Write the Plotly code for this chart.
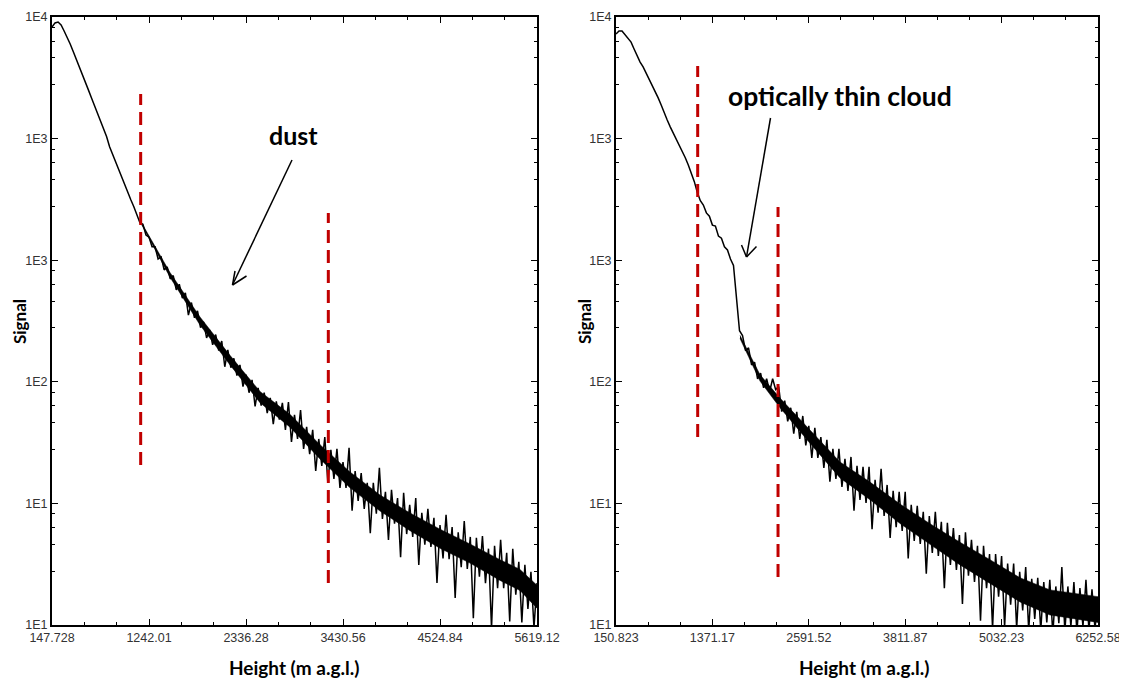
import numpy as np
import plotly.graph_objects as go

# ---------------- data ----------------
left_x_ticks = [147.728, 1242.01, 2336.28, 3430.56, 4524.84, 5619.12]
left_x_labels = ["147.728", "1242.01", "2336.28", "3430.56", "4524.84", "5619.12"]
right_x_ticks = [150.823, 1371.17, 2591.52, 3811.87, 5032.23, 6252.58]
right_x_labels = ["150.823", "1371.17", "2591.52", "3811.87", "5032.23", "6252.58"]

y_tick_exponents = [1.0, 1.6, 2.2, 2.8, 3.4, 4.0]
y_tick_labels = ["1E1", "1E1", "1E2", "1E3", "1E3", "1E4"]

# signal of the dust profile (left) on evenly spaced range bins
left_signal = [8930, 9350, 9450, 9130, 8530, 7960, 7360, 6750, 6210, 5680, 5210, 4760, 4370, 4000,
               3660, 3360, 3065, 2810, 2570, 2290, 2095, 1915, 1755, 1606, 1477, 1361, 1253, 1159,
               1068, 965, 950, 840, 820, 735, 735, 640, 655, 565, 585, 510, 530, 450, 480, 410, 435,
               338, 390, 328, 355, 293, 313, 261, 286, 241, 271, 226, 252, 188, 228, 186, 207, 170,
               192, 150, 172, 140, 162, 120, 148, 121, 140, 111, 132, 98, 127, 103,
               124.7, 91.8, 126, 80, 109, 82.8, 115, 74, 95, 69.6, 91.8, 57.5, 82.8, 61, 84.6, 50.3,
               73.1, 52.6, 74, 47.5, 63.7, 47.5, 74.8, 36.6, 57.5, 41, 56.2, 37.4, 50.3, 28.4, 50.3,
               35.4, 59.6, 33.4, 45.4, 26.3, 46.4, 31.6, 42.3, 21.6, 44.9, 28.1, 39.2, 27.2, 42.3,
               19.8, 35.8, 24.9, 37.4, 24.3, 33.8, 16.1, 31.1, 21.3, 35, 21.1, 30.4, 13.6, 28.7, 19.3,
               32.6, 18.9, 27.2, 10.8, 26.9, 17.3, 27.5, 16.1, 23.8, 9.6, 24.6, 15.2, 26.3, 15.2, 22.7,
               10.4, 23.8, 14.1, 20.5, 10.3, 19.8, 12.0, 18.3, 9.7, 16.1]

# dense noise core of the dust profile (upper / lower edge of the black band)
left_band_height = [1140.5, 1478.9, 1817.3, 2155.8, 2494.2, 2832.6, 3171.1, 3509.5, 3848.0,
                    4186.4, 4524.8, 4863.3, 5201.7, 5427.3, 5619.1]
left_band_upper = [995, 549, 331, 214, 142, 109.5, 77.6, 56.9, 43.8, 35.7, 29.7, 25.1, 21.0, 18.8, 15.7]
left_band_lower = [977, 520, 302, 192, 125, 94.7, 65.9, 47.5, 36.5, 29.2, 23.9, 20.2, 16.6, 14.8, 12.1]

# signal of the optically thin cloud profile (right)
right_signal = [8250, 8530, 8530, 8170, 7880, 7520, 6950, 6420, 5990, 5670, 5290, 5000, 4670, 4320,
                3990, 3680, 3360, 3100, 2870, 2680, 2500, 2340, 2180, 2020, 1860, 1700, 1540, 1360,
                1240, 1180, 1080, 1040, 940, 930, 830, 810, 735, 709, 640, 595, 425, 283, 268, 226,
                233, 192, 198, 164, 175, 148, 164, 142, 164, 145, 150, 113, 128, 101, 118, 88,
                112.6, 82.8, 107.5, 77, 96, 66.7, 94, 66.7, 84.6, 59.6, 81.9, 51, 74, 52.6, 74, 48,
                66, 45.9, 67.5, 36.6, 61, 41.4, 60.3, 40, 60.3, 29.7, 52, 35.8, 58.9, 34.5, 49.1,
                26.9, 45.9, 30.4, 45.4, 29.1, 45.4, 21.3, 39.2, 26, 38.7, 25.1, 36.2, 17.9, 34.5,
                22.7, 36.2, 21.9, 32.3, 15.2, 31.9, 19.8, 30.1, 18.7, 27.8, 12.7, 28.7, 17.5, 26.3,
                16.3, 24.6, 10.5, 24.6, 15.2, 22.4, 9.6, 22.4, 13.8, 21.9, 9.8, 20.1, 12.6, 20.1, 9.6,
                18.3, 11.8, 19.3, 9.4, 16.9, 10.7, 17.1, 9.4, 16.3, 10.3, 16.7, 9.0, 15.5, 10.2, 19.3,
                9.3, 15.5, 9.8, 16.3, 9.2, 15.2, 9.8, 16.7, 9.4, 15, 9.6, 13.6]

right_band_height = [1720.6, 1973.7, 2226.9, 2606.7, 2986.5, 3366.3, 3746.0, 4125.8, 4505.6,
                     4885.4, 5265.1, 5644.9, 6024.7, 6252.6]
right_band_upper = [268.6, 171.8, 131.7, 91.1, 63.7, 50.7, 39.5, 31.6, 25.6, 21.0, 17.1, 14.9, 14.2, 13.8]
right_band_lower = [259, 159.8, 118.1, 78.8, 53.2, 41.5, 31.7, 25.0, 19.8, 16.0, 13.0, 11.2, 10.6, 10.3]

# layer boundary markers (height, m a.g.l.)
left_markers = [1148, 3265]
right_markers = [1185, 2202]

left_height = np.linspace(left_x_ticks[0], left_x_ticks[-1], len(left_signal))
right_height = np.linspace(right_x_ticks[0], right_x_ticks[-1], len(right_signal))

# ---------------- figure ----------------
# the page body adds an 8 px offset, so the figure is 8 px smaller and all
# reference pixel positions are shifted by 8 px
OFF = 8
W, H = 1127 - OFF, 681 - OFF


def px(x):
    return (x - OFF) / W


def py(y):
    return 1 - (y - OFF) / H


fig = go.Figure()


def add_band(hts, up, lo, xa, ya):
    fig.add_trace(go.Scatter(x=list(hts) + list(hts)[::-1], y=list(up) + list(lo)[::-1],
                             mode="lines", fill="toself", fillcolor="black",
                             line=dict(color="black", width=0.5), xaxis=xa, yaxis=ya,
                             showlegend=False, hoverinfo="skip"))


add_band(left_band_height, left_band_upper, left_band_lower, "x", "y")
add_band(right_band_height, right_band_upper, right_band_lower, "x2", "y2")

fig.add_trace(go.Scatter(x=left_height, y=left_signal, mode="lines",
                         line=dict(color="black", width=1.5), xaxis="x", yaxis="y",
                         showlegend=False, hoverinfo="skip"))
fig.add_trace(go.Scatter(x=right_height, y=right_signal, mode="lines",
                         line=dict(color="black", width=1.5), xaxis="x2", yaxis="y2",
                         showlegend=False, hoverinfo="skip"))

tick_font = dict(family="Liberation Sans, Arial, sans-serif", size=12.5, color="#333333")

y_tickvals = [10 ** e for e in y_tick_exponents]
fracs = [0.086, 0.198, 0.337, 0.556]
step = y_tick_exponents[1] - y_tick_exponents[0]
y_minor = [10 ** (t - f * step) for t in y_tick_exponents[1:] for f in fracs]


def x_minor(ticks):
    out = []
    for a, b in zip(ticks[:-1], ticks[1:]):
        d = (b - a) / 3
        out += [a + d, a + 2 * d]
    return out


common_x = dict(showline=True, linewidth=2, linecolor="black", mirror="ticks",
                ticks="inside", ticklen=6, tickwidth=1, tickcolor="black", automargin=False,
                showgrid=False, zeroline=False, tickfont=tick_font, tickmode="array")
common_y = dict(type="log", range=[1, 4], showline=True, linewidth=2, linecolor="black",
                mirror="ticks", ticks="inside", ticklen=6, tickwidth=1, tickcolor="black",
                showgrid=False, zeroline=False, tickfont=tick_font, tickmode="array",
                tickvals=y_tickvals, ticktext=y_tick_labels, automargin=False,
                minor=dict(tickmode="array", tickvals=y_minor, ticks="inside", ticklen=3,
                           tickwidth=1, tickcolor="black", showgrid=False),
                domain=[py(625), py(17)])

fig.update_layout(
    width=W, height=H, margin=dict(l=0, r=0, t=0, b=0, pad=0, autoexpand=False),
    paper_bgcolor="white", plot_bgcolor="white",
    xaxis=dict(domain=[px(52), px(537)], range=[left_x_ticks[0], left_x_ticks[-1]],
               tickvals=left_x_ticks, ticktext=left_x_labels, anchor="y",
               minor=dict(tickmode="array", tickvals=x_minor(left_x_ticks), ticks="inside",
                          ticklen=3, tickwidth=1, tickcolor="black", showgrid=False),
               **common_x),
    yaxis=dict(anchor="x", **common_y),
    xaxis2=dict(domain=[px(616), px(1098)], range=[right_x_ticks[0], right_x_ticks[-1]],
                tickvals=right_x_ticks, ticktext=right_x_labels, anchor="y2",
                minor=dict(tickmode="array", tickvals=x_minor(right_x_ticks), ticks="inside",
                           ticklen=3, tickwidth=1, tickcolor="black", showgrid=False),
                **common_x),
    yaxis2=dict(anchor="x2", **common_y),
)

title_font = dict(family="Lato, Open Sans, sans-serif", size=19, color="black")
signal_font = dict(family="Lato, Open Sans, sans-serif", size=17, color="black")
ann = []
ann.append(dict(text="<b>Height (m a.g.l.)</b>", x=px(294), y=py(667), xref="paper", yref="paper",
                showarrow=False, xanchor="center", yanchor="middle", font=title_font))
ann.append(dict(text="<b>Height (m a.g.l.)</b>", x=px(864), y=py(667), xref="paper", yref="paper",
                showarrow=False, xanchor="center", yanchor="middle", font=title_font))
ann.append(dict(text="<b>Signal</b>", x=px(19), y=py(322), xref="paper", yref="paper",
                showarrow=False, xanchor="center", yanchor="middle", textangle=-90, font=signal_font))
ann.append(dict(text="<b>Signal</b>", x=px(584), y=py(322), xref="paper", yref="paper",
                showarrow=False, xanchor="center", yanchor="middle", textangle=-90, font=signal_font))
ann.append(dict(text="<b>dust</b>", x=px(293), y=py(135), xref="paper", yref="paper",
                showarrow=False, xanchor="center", yanchor="middle",
                font=dict(family="Lato, Open Sans, sans-serif", size=25, color="black")))
ann.append(dict(text="<b>optically thin cloud</b>", x=px(840), y=py(96), xref="paper", yref="paper",
                showarrow=False, xanchor="center", yanchor="middle",
                font=dict(family="Lato, Open Sans, sans-serif", size=26.5, color="black")))
fig.update_layout(annotations=ann)

shapes = []
red = dict(color="#C00000", width=3, dash="13px,7px")
for h, (y0, y1) in zip(left_markers, [(465, 94), (583, 213)]):
    shapes.append(dict(type="line", xref="x", yref="paper", x0=h, x1=h, y0=py(y0), y1=py(y1), line=red))
for h, (y0, y1) in zip(right_markers, [(437, 66), (577, 207)]):
    shapes.append(dict(type="line", xref="x2", yref="paper", x0=h, x1=h, y0=py(y0), y1=py(y1), line=red))

arrow = dict(color="black", width=1.5)


def add_arrow(tail, tip, arm1, arm2):
    for a in (tail, arm1, arm2):
        shapes.append(dict(type="line", xref="paper", yref="paper", x0=px(a[0]), y0=py(a[1]),
                           x1=px(tip[0]), y1=py(tip[1]), line=arrow))


add_arrow((292, 160), (232.5, 285), (235, 271), (246.5, 276))
add_arrow((770.5, 118), (746.5, 257), (741.5, 245), (756.5, 246.5))
fig.update_layout(shapes=shapes)

fig.write_html("out.html")
